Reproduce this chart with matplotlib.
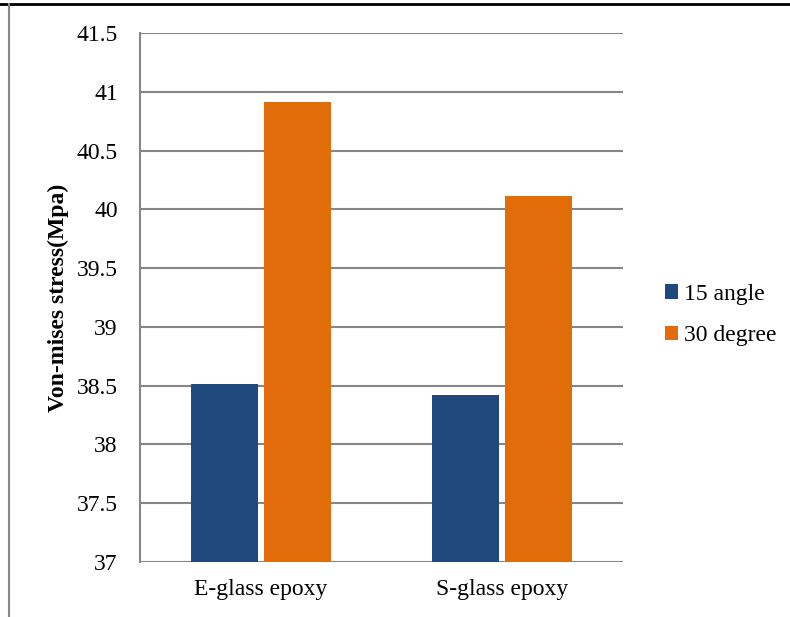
import numpy as np
import matplotlib.pyplot as plt
from matplotlib.lines import Line2D

# Data
categories = ['E-glass epoxy', 'S-glass epoxy']
series_names = ['15 angle', '30 degree']
angle_15 = [38.51, 38.42]
degree_30 = [40.91, 40.11]
yticks = [37, 37.5, 38, 38.5, 39, 39.5, 40, 40.5, 41, 41.5]
ytick_labels = ['37', '37.5', '38', '38.5', '39', '39.5', '40', '40.5', '41', '41.5']

plt.rcParams['font.family'] = ['Liberation Serif', 'DejaVu Serif']

fig = plt.figure(figsize=(7.9, 6.17), dpi=100)
ax = fig.add_axes([140/790, 1 - 562/617, 483/790, 529/617])

x = np.arange(len(categories))
w = 0.277
gap = 0.025
ax.bar(x - w/2 - gap/2, np.array(angle_15) - 37, w, bottom=37,
       color='#1f497d', label=series_names[0], zorder=3)
ax.bar(x + w/2 + gap/2, np.array(degree_30) - 37, w, bottom=37,
       color='#e36c0a', label=series_names[1], zorder=3)

ax.set_xlim(-0.5, 1.5)
ax.set_ylim(37, 41.5)
ax.set_yticks(yticks)
ax.set_yticklabels(ytick_labels)
ax.set_xticks(x)
ax.set_xticklabels(categories)
ax.tick_params(axis='both', length=0, labelsize=17, colors='black')
ax.tick_params(axis='y', pad=16)
ax.tick_params(axis='x', pad=12)
ax.grid(axis='y', color='#868686', linewidth=1.5, zorder=0)
for s in ['top', 'right', 'bottom']:
    ax.spines[s].set_visible(False)
ax.spines['left'].set_color('#868686')
ax.spines['left'].set_linewidth(1.5)

ax.set_ylabel('Von-mises stress(Mpa)', fontsize=17, fontweight='bold')
ax.yaxis.set_label_coords(-0.147, 0.5)

leg = ax.legend(loc='center left', bbox_to_anchor=(1.087, 0.467), frameon=False,
                fontsize=17, handlelength=0.55, handleheight=0.55,
                handletextpad=0.25, labelspacing=0.85,
                borderpad=0, borderaxespad=0)

# outer frame lines
fig.add_artist(Line2D([0, 1], [1 - 4/617, 1 - 4/617], color='black', lw=2))
fig.add_artist(Line2D([9/790, 9/790], [0, 1 - 4/617], color='#868686', lw=1.5))

fig.savefig('out.png', dpi=100)
